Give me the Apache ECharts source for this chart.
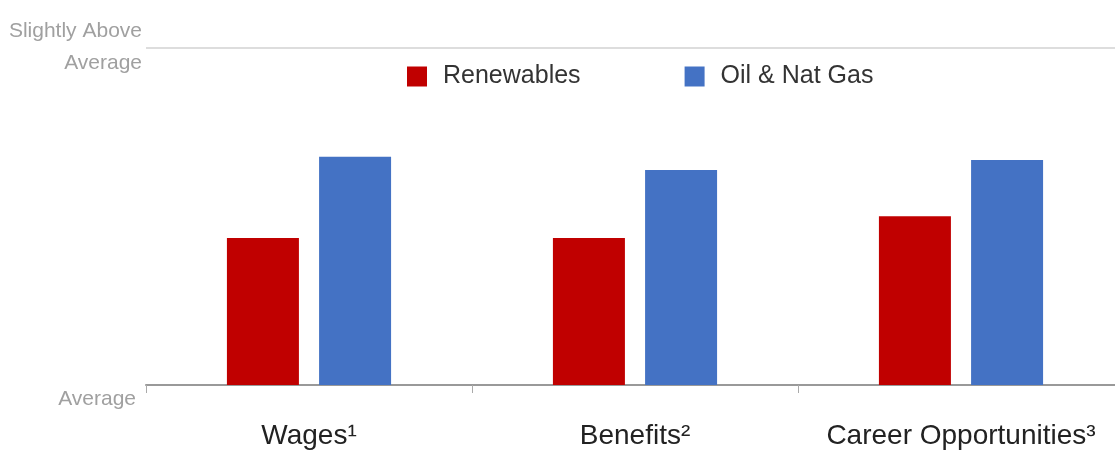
<!DOCTYPE html>
<html>
<head>
<meta charset="utf-8">
<script src="https://cdn.jsdelivr.net/npm/echarts@6/dist/echarts.min.js"></script>
<style>html,body{margin:0;padding:0;background:#fff;}#c{width:1115px;height:453px;}</style>
</head>
<body>
<div id="c"></div>
<script>
const categories = ['Wages¹', 'Benefits²', 'Career Opportunities³'];
const renewables = [0.436, 0.436, 0.501];
const oilGas = [0.677, 0.638, 0.668];
const yTickLabels = ['Average', 'Slightly Above\nAverage'];

const FONT = "'Liberation Sans', Arial, sans-serif";
const chart = echarts.init(document.getElementById('c'));
chart.setOption({
  animation: false,
  backgroundColor: '#fff',
  grid: { left: 146, top: 48, bottom: 68, width: 978, containLabel: false, outerBoundsMode: 'none' },
  legend: {
    left: 402, top: 59,
    itemWidth: 20, itemHeight: 20, itemGap: 104,
    icon: 'rect',
    textStyle: { fontFamily: FONT, fontSize: 25, color: '#333', padding: [0, 0, 0, 11] },
    data: ['Renewables', 'Oil & Nat Gas']
  },
  xAxis: {
    type: 'category',
    data: categories,
    axisLine: { lineStyle: { color: '#999', width: 2 } },
    axisTick: { show: true, interval: 0, length: 8, lineStyle: { color: '#aaa', width: 1 } },
    axisLabel: { interval: 0, fontFamily: FONT, fontSize: 28, color: '#222', margin: 37 }
  },
  yAxis: {
    type: 'value', min: 0, max: 1, interval: 1,
    axisLine: { show: false }, axisTick: { show: false },
    splitLine: { lineStyle: { color: '#ddd', width: 2 } },
    axisLabel: {
      margin: 4,
      formatter: function (v) { return v === 0 ? '{b|' + yTickLabels[0] + '}' : '{t|' + yTickLabels[1] + '}'; },
      rich: {
        b: { fontFamily: FONT, fontSize: 21, color: '#a0a0a0', padding: [28, 6, 0, 0], align: 'right' },
        t: { fontFamily: FONT, fontSize: 21, color: '#a0a0a0', lineHeight: 32, padding: [0, 0, 2, 0], align: 'right' }
      }
    }
  },
  series: [
    { name: 'Renewables', type: 'bar', data: renewables, barWidth: 72, barGap: '28%', itemStyle: { color: '#C00000' } },
    { name: 'Oil & Nat Gas', type: 'bar', data: oilGas, barWidth: 72, itemStyle: { color: '#4472C4' } }
  ]
});
</script>
</body>
</html>
